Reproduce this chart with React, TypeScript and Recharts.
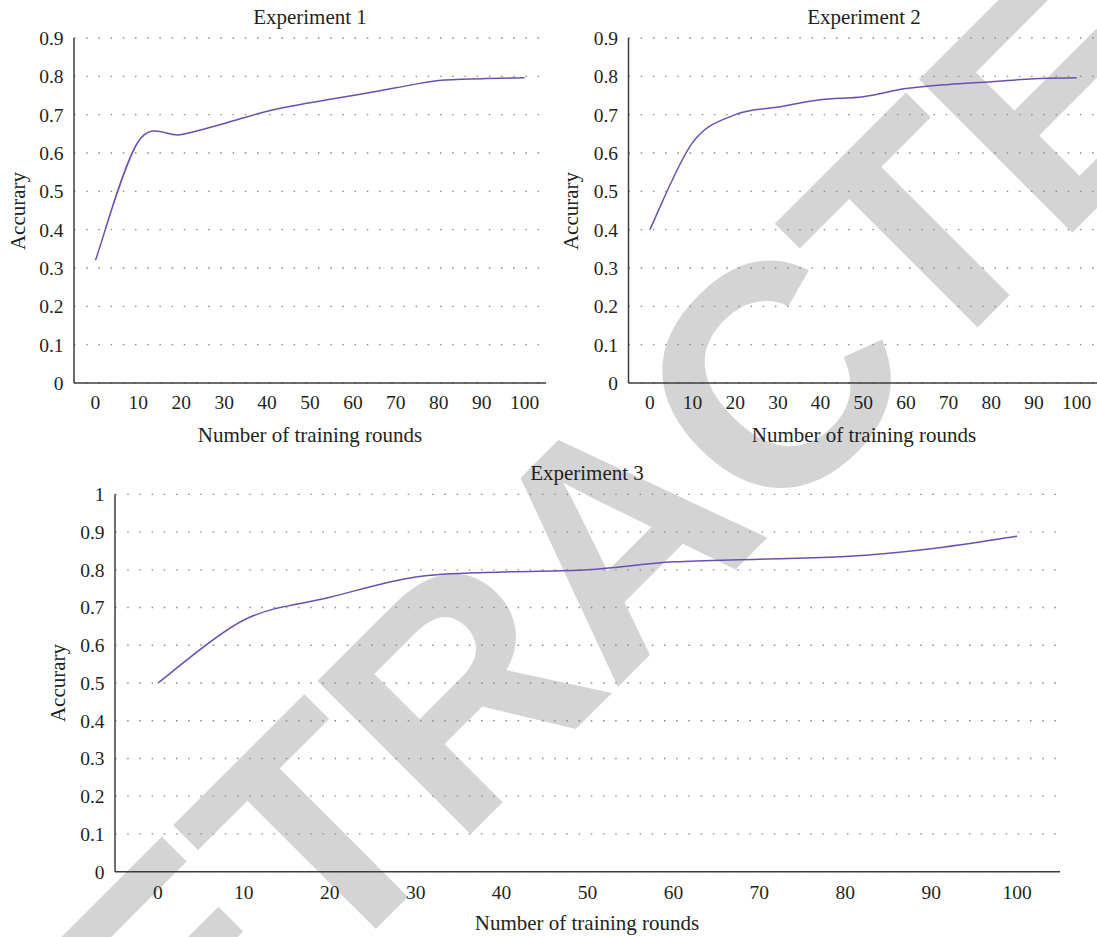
import React from 'react'
import { LineChart, Line, XAxis, YAxis, CartesianGrid } from 'recharts'

// training rounds on the x axis (shared by all three experiments)
const rounds = [0, 10, 20, 30, 40, 50, 60, 70, 80, 90, 100]

// accuracy
const exp1Accuracy = [0.32, 0.63, 0.648, 0.677, 0.709, 0.731, 0.75, 0.77, 0.789, 0.794, 0.796]
const exp2Accuracy = [0.4, 0.627, 0.7, 0.72, 0.739, 0.747, 0.768, 0.779, 0.786, 0.794, 0.796]
const exp3Accuracy = [0.5, 0.667, 0.727, 0.781, 0.794, 0.8, 0.821, 0.828, 0.835, 0.856, 0.889]

const yTicksTop = [0, 0.1, 0.2, 0.3, 0.4, 0.5, 0.6, 0.7, 0.8, 0.9]
const yTicksBottom = [0, 0.1, 0.2, 0.3, 0.4, 0.5, 0.6, 0.7, 0.8, 0.9, 1]

const titles = ['Experiment 1', 'Experiment 2', 'Experiment 3']
const xTitle = 'Number of training rounds'
const yTitle = 'Accurary'
const watermark = 'RETRACTED'

const FONT = '"Liberation Serif", "Times New Roman", serif'
const INK = '#231f20'
const LINE_COLOR = '#6a50b2'
const AXIS_COLOR = '#3c3c3c'

// Excel-style smoothed line (Catmull-Rom through every point)
const excelSmooth = (context: any) => {
  let pts: [number, number][] = []
  return {
    areaStart() {},
    areaEnd() {},
    lineStart() {
      pts = []
    },
    point(x: number, y: number) {
      pts.push([+x, +y])
    },
    lineEnd() {
      if (pts.length === 0) return
      context.moveTo(pts[0][0], pts[0][1])
      for (let i = 0; i < pts.length - 1; i++) {
        const p0 = pts[Math.max(i - 1, 0)]
        const p1 = pts[i]
        const p2 = pts[i + 1]
        const p3 = pts[Math.min(i + 2, pts.length - 1)]
        context.bezierCurveTo(
          p1[0] + (p2[0] - p0[0]) / 6,
          p1[1] + (p2[1] - p0[1]) / 6,
          p2[0] - (p3[0] - p1[0]) / 6,
          p2[1] - (p3[1] - p1[1]) / 6,
          p2[0],
          p2[1]
        )
      }
    },
  }
}

interface PanelProps {
  left: number
  top: number
  width: number
  height: number
  margin: { top: number; right: number; bottom: number; left: number }
  yAxisWidth: number
  values: number[]
  yTicks: number[]
  yMax: number
  tickMarginX: number
}

const Panel: React.FC<PanelProps> = ({ left, top, width, height, margin, yAxisWidth, values, yTicks, yMax, tickMarginX }) => {
  const data = rounds.map((r, i) => ({ round: r, accuracy: values[i] }))
  const tickStyle = { fill: INK, fontSize: 19.5, fontFamily: FONT }
  return (
    <div style={{ position: 'absolute', left, top }}>
      <LineChart width={width} height={height} data={data} margin={margin}>
        <CartesianGrid vertical={false} stroke="#8a8a8a" strokeWidth={1.3} strokeDasharray="1.5 10.7" />
        <XAxis
          dataKey="round"
          type="number"
          domain={[-5, 105]}
          ticks={rounds}
          interval={0}
          height={40}
          tickLine={false}
          tickMargin={tickMarginX}
          axisLine={{ stroke: AXIS_COLOR, strokeWidth: 1.5 }}
          tick={tickStyle}
        />
        <YAxis
          type="number"
          domain={[0, yMax]}
          ticks={yTicks}
          interval={0}
          width={yAxisWidth}
          tickLine={false}
          tickMargin={4.5}
          axisLine={{ stroke: AXIS_COLOR, strokeWidth: 1.5 }}
          tick={tickStyle}
          tickFormatter={(v: number) => String(v)}
        />
        <Line
          dataKey="accuracy"
          type={excelSmooth as any}
          stroke={LINE_COLOR}
          strokeWidth={1.5}
          dot={false}
          activeDot={false}
          isAnimationActive={false}
        />
      </LineChart>
    </div>
  )
}

const Text: React.FC<{ x: number; y: number; rotate?: boolean; children: React.ReactNode }> = ({ x, y, rotate, children }) => (
  <div
    style={{
      position: 'absolute',
      left: x,
      top: y,
      transform: `translate(-50%, -50%)${rotate ? ' rotate(-90deg)' : ''}`,
      fontFamily: FONT,
      fontSize: 21,
      lineHeight: 1,
      color: INK,
      whiteSpace: 'nowrap',
    }}
  >
    {children}
  </div>
)

export default function App() {
  return (
    <div
      style={{
        position: 'absolute',
        left: 0,
        top: 0,
        width: 1097,
        height: 937,
        overflow: 'hidden',
        background: '#fff',
      }}
    >
      <svg width={1097} height={937} style={{ position: 'absolute', left: 0, top: 0 }}>
        <text
          x={23}
          y={1282}
          transform="rotate(-45 23 1282)"
          fontFamily='"Liberation Sans", Arial, sans-serif'
          fontWeight={700}
          fontSize={315}
          letterSpacing={-6}
          fill="#d4d4d4"
        >
          {watermark}
        </text>
      </svg>

      <Panel
        left={0}
        top={0}
        width={560}
        height={460}
        margin={{ top: 38, right: 14, bottom: 37, left: 0 }}
        yAxisWidth={74}
        values={exp1Accuracy}
        yTicks={yTicksTop}
        yMax={0.9}
        tickMarginX={6}
      />
      <Panel
        left={550}
        top={0}
        width={560}
        height={460}
        margin={{ top: 38, right: 12, bottom: 37, left: 4.5 }}
        yAxisWidth={74}
        values={exp2Accuracy}
        yTicks={yTicksTop}
        yMax={0.9}
        tickMarginX={6}
      />
      <Panel
        left={0}
        top={460}
        width={1097}
        height={477}
        margin={{ top: 34.3, right: 37, bottom: 25.3, left: 0 }}
        yAxisWidth={115}
        values={exp3Accuracy}
        yTicks={yTicksBottom}
        yMax={1}
        tickMarginX={7}
      />

      <Text x={310} y={17}>{titles[0]}</Text>
      <Text x={864} y={17}>{titles[1]}</Text>
      <Text x={587} y={473}>{titles[2]}</Text>

      <Text x={310} y={435}>{xTitle}</Text>
      <Text x={864} y={435}>{xTitle}</Text>
      <Text x={587} y={923}>{xTitle}</Text>

      <Text x={18} y={210.5} rotate>{yTitle}</Text>
      <Text x={571} y={210.5} rotate>{yTitle}</Text>
      <Text x={58} y={683} rotate>{yTitle}</Text>
    </div>
  )
}
